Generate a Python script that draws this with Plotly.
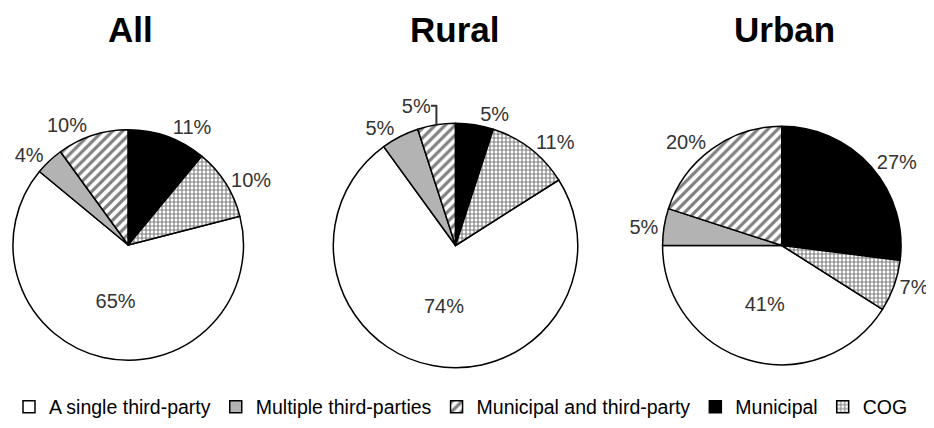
import plotly.graph_objects as go

labels = ["A single third-party", "Multiple third-parties", "Municipal and third-party", "Municipal", "COG"]
titles = ["All", "Rural", "Urban"]
all_vals = [65, 4, 10, 11, 10]
rural_vals = [74, 5, 5, 5, 11]
urban_vals = [41, 5, 20, 27, 7]

series = [all_vals, rural_vals, urban_vals]
colors = ["white", "#b3b3b3", "white", "black", "white"]
shapes = ["", "", "/", "", "+"]
psize = [8, 8, 7, 8, 4]
psol = [0.3, 0.3, 0.45, 0.3, 0.5]

# page body adds an 8px offset; figure is sized to fit the window
W, H = 926, 420
def px(x0, x1):
    return [x0 / W, x1 / W]
def py(y0, y1):
    return [1 - y1 / H, 1 - y0 / H]

domains = [
    dict(x=px(4, 235), y=py(120, 354)),
    dict(x=px(325, 570), y=py(115, 360)),
    dict(x=px(655, 894), y=py(117, 358)),
]
title_x = [121.5 / W, 446 / W, 777 / W]

fig = go.Figure()
for i, vals in enumerate(series):
    total = sum(vals)
    # start the single third-party slice after Municipal and COG (clockwise from 12 o'clock)
    rot = (vals[3] + vals[4]) / total * 360
    tp = ["inside" if v > 30 else "outside" for v in vals]
    fig.add_trace(go.Pie(
        labels=labels, values=vals, sort=False, direction="clockwise",
        rotation=rot, domain=domains[i],
        marker=dict(colors=colors, line=dict(color="black", width=1.5),
                    pattern=dict(shape=shapes, fgcolor="black", bgcolor=colors,
                                 size=psize, solidity=psol, fillmode="overlay")),
        texttemplate="%{value}%", textposition=tp,
        textfont=dict(family="Liberation Sans, Arial", size=20, color="#333"),
        insidetextorientation="horizontal", showlegend=(i == 0),
        hoverinfo="label+percent",
    ))

annotations = [dict(text="<b>%s</b>" % t, x=title_x[i], y=1, xref="paper", yref="paper",
                    showarrow=False, xanchor="center", yanchor="top",
                    font=dict(family="Liberation Sans, Arial", size=35, color="black"))
               for i, t in enumerate(titles)]

fig.update_layout(
    width=W, height=H, margin=dict(l=0, r=0, t=0, b=0),
    paper_bgcolor="white", plot_bgcolor="white",
    annotations=annotations,
    legend=dict(orientation="h", x=0.0, xanchor="left", y=1 - 399 / H, yanchor="middle",
                font=dict(family="Liberation Sans, Arial", size=19.5, color="black"),
                traceorder="normal", itemwidth=30),
)
fig.write_html("out.html")
